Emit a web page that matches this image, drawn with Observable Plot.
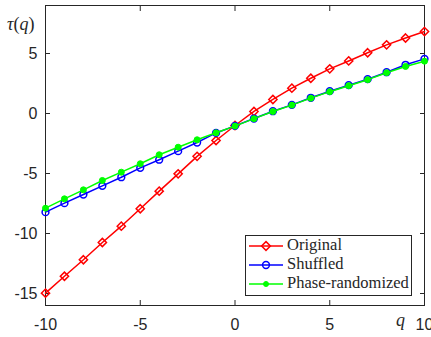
<!DOCTYPE html>
<html>
<head>
<meta charset="utf-8">
<script src="https://cdn.jsdelivr.net/npm/d3@7"></script>
<script src="https://cdn.jsdelivr.net/npm/@observablehq/plot@0.6"></script>
<style>
  html, body { margin: 0; padding: 0; background: #fff; overflow: hidden; }
  #chart { position: relative; width: 431px; height: 337px; }
</style>
</head>
<body>
<div id="chart"></div>
<script>
const qValues = [-10,-9,-8,-7,-6,-5,-4,-3,-2,-1,0,1,2,3,4,5,6,7,8,9,10];
const original = [-14.97,-13.56,-12.19,-10.75,-9.39,-7.94,-6.47,-5.03,-3.57,-2.25,-1.0,0.17,1.17,2.11,2.94,3.72,4.38,5.06,5.72,6.29,6.83];
const shuffled = [-8.22,-7.47,-6.75,-6.03,-5.31,-4.53,-3.85,-3.14,-2.42,-1.62,-1.03,-0.42,0.19,0.72,1.31,1.86,2.36,2.86,3.44,4.06,4.55];
const phaseRandomized = [-7.89,-7.11,-6.36,-5.58,-4.89,-4.19,-3.44,-2.81,-2.19,-1.61,-1.05,-0.43,0.17,0.70,1.28,1.82,2.32,2.82,3.40,3.92,4.36];
const xTicks = [-10,-5,0,5,10];
const yTicks = [-15,-10,-5,0,5];
const seriesNames = ["Original","Shuffled","Phase-randomized"];
const seriesColors = ["#ff0000","#0000ff","#00ff00"];

const toRows = (vals) => qValues.map((q, i) => ({q, v: vals[i]}));
const rowsO = toRows(original), rowsS = toRows(shuffled), rowsP = toRows(phaseRandomized);
const axisColor = "#262626";
const fmt = d => String(d);
const sans = "'Liberation Sans', Arial, sans-serif";
const serif = "'Liberation Serif', 'Times New Roman', serif";

const chart = Plot.plot({
  width: 431, height: 337,
  marginLeft: 45, marginRight: 7, marginTop: 5, marginBottom: 32,
  style: {fontFamily: sans, fontSize: "16px", color: axisColor, background: "#fff"},
  x: {domain: [-10, 10], ticks: xTicks},
  y: {domain: [-16, 9], ticks: yTicks},
  marks: [
    Plot.frame({stroke: axisColor, strokeWidth: 1}),
    Plot.axisX(xTicks, {anchor: "bottom", tickSize: 0, tickPadding: 13, tickFormat: fmt, label: null, fill: axisColor, fontSize: 16, fontFamily: sans}),
    Plot.axisY(yTicks, {anchor: "left", tickSize: 0, tickPadding: 8, tickFormat: fmt, label: null, fill: axisColor, fontSize: 16, fontFamily: sans}),
    Plot.axisX(xTicks, {anchor: "bottom", tickSize: 5, dy: -5, text: null, label: null, stroke: axisColor}),
    Plot.axisX(xTicks, {anchor: "top", tickSize: 5, dy: 5, text: null, label: null, stroke: axisColor}),
    Plot.axisY(yTicks, {anchor: "left", tickSize: 5, dx: 5, text: null, label: null, stroke: axisColor}),
    Plot.axisY(yTicks, {anchor: "right", tickSize: 5, dx: -5, text: null, label: null, stroke: axisColor}),
    Plot.line(rowsO, {x: "q", y: "v", stroke: seriesColors[0], strokeWidth: 1.5}),
    Plot.dot(rowsO, {x: "q", y: "v", symbol: "diamond2", r: 3.7, stroke: seriesColors[0], strokeWidth: 1.5, fill: "none"}),
    Plot.line(rowsS, {x: "q", y: "v", stroke: seriesColors[1], strokeWidth: 1.5}),
    Plot.dot(rowsS, {x: "q", y: "v", symbol: "circle", r: 3.4, stroke: seriesColors[1], strokeWidth: 1.5, fill: "none"}),
    Plot.line(rowsP, {x: "q", y: "v", stroke: seriesColors[2], strokeWidth: 1.5}),
    Plot.dot(rowsP, {x: "q", y: "v", symbol: "circle", r: 3, fill: seriesColors[2], stroke: seriesColors[2], strokeWidth: 1})
  ]
});
document.getElementById("chart").appendChild(chart);

const svg = d3.select(chart);
// axis labels
const yl = svg.append("text").attr("x", 7).attr("y", 30).attr("text-anchor", "start")
  .style("font-family", serif).style("font-size", "18px").attr("fill", axisColor);
yl.append("tspan").style("font-style", "italic").text("τ");
yl.append("tspan").text("(");
yl.append("tspan").style("font-style", "italic").text("q");
yl.append("tspan").text(")");
svg.append("text").attr("x", 396).attr("y", 326).attr("text-anchor", "start")
  .style("font-family", serif).style("font-size", "18px").style("font-style", "italic")
  .attr("fill", axisColor).text("q");

// legend
const lg = svg.append("g").attr("text-anchor", "start");
lg.append("rect").attr("x", 245.5).attr("y", 235.5).attr("width", 166).attr("height", 60)
  .attr("fill", "#fff").attr("stroke", axisColor).attr("stroke-width", 1);
const rowY = [246, 265, 284];
seriesNames.forEach((name, i) => {
  const y = rowY[i];
  lg.append("line").attr("x1", 249).attr("x2", 283).attr("y1", y).attr("y2", y)
    .attr("stroke", seriesColors[i]).attr("stroke-width", 1.5);
  if (i === 0) {
    lg.append("path").attr("d", `M266,${y-4.4}L270.4,${y}L266,${y+4.4}L261.6,${y}Z`)
      .attr("fill", "none").attr("stroke", seriesColors[i]).attr("stroke-width", 1.5);
  } else if (i === 1) {
    lg.append("circle").attr("cx", 266).attr("cy", y).attr("r", 3.4)
      .attr("fill", "none").attr("stroke", seriesColors[i]).attr("stroke-width", 1.5);
  } else {
    lg.append("circle").attr("cx", 266).attr("cy", y).attr("r", 2.5)
      .attr("fill", seriesColors[i]).attr("stroke", seriesColors[i]);
  }
  lg.append("text").attr("x", 287).attr("y", y + 4).attr("text-anchor", "start")
    .style("font-family", serif).style("font-size", "16.5px")
    .attr("fill", axisColor).text(name);
});
</script>
</body>
</html>
